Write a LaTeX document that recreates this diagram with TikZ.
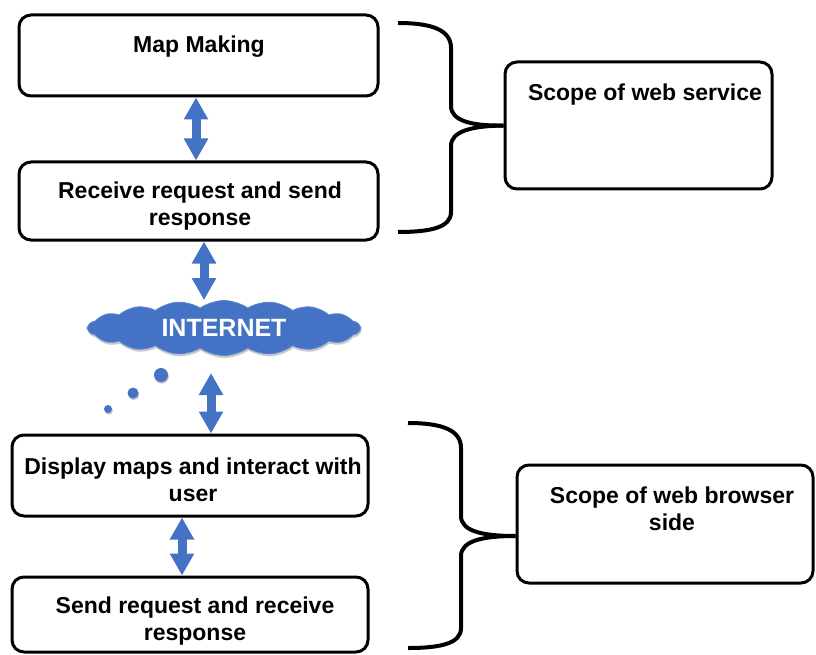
\documentclass[tikz,border=0pt]{standalone}
\usepackage{fontspec}
\setmainfont{Liberation Sans}
\usetikzlibrary{arrows.meta,shapes.symbols,shadows,calc}
\definecolor{netblue}{RGB}{68,114,196}
\tikzset{
  box/.style={draw=black, line width=3pt, rounded corners=12pt, fill=white, inner sep=0pt},
  txt/.style={align=center, inner sep=0pt, font=\fontsize{23}{27}\selectfont\bfseries},
  dbl/.style={draw=netblue, line width=9pt,
    {Triangle[width=23pt,length=22pt]}-{Triangle[width=23pt,length=22pt]}},
  brace/.style={draw=black, line width=4pt},
  dot/.style={circle, fill=netblue, inner sep=0pt,
    drop shadow={shadow xshift=0.8pt, shadow yshift=-1.6pt, fill=black!40, opacity=.6}},
}
\begin{document}
\begin{tikzpicture}[x=1pt, y=-1pt]
\useasboundingbox (0,0) rectangle (816,655);

% server side boxes
\node[box, minimum width=359pt, minimum height=81pt] (box1) at (198.5,55.5) {};
\node[box, minimum width=359pt, minimum height=78pt] (box2) at (198.5,201) {};
\node[txt] (t1) at (199,47) {Map Making};
\node[txt] (t2) at (200,206) {Receive request and send\\response};

% browser side boxes
\node[box, minimum width=356pt, minimum height=81pt] (box3) at (190,475.5) {};
\node[box, minimum width=356pt, minimum height=75pt] (box4) at (190,614.5) {};
\node[txt] (t3) at (193,480) {Display maps and interact with\\user};
\node[txt] (t4) at (195,621) {Send request and receive\\response};

% scope boxes
\node[box, minimum width=267pt, minimum height=127pt] (sbox1) at (638.5,125.5) {};
\node[box, minimum width=296pt, minimum height=118pt] (sbox2) at (665,524) {};
\node[txt] (t5) at (645,95) {Scope of web service};
\node[txt] (t6) at (672,509) {Scope of web browser\\side};

% the internet cloud
\node[cloud, cloud puffs=18, cloud puff arc=70, aspect=5,
      minimum width=272pt, minimum height=55pt, inner sep=0pt,
      fill=netblue, draw=netblue!85!white, line width=0.8pt,
      drop shadow={shadow xshift=0.8pt, shadow yshift=-2.5pt, fill=black!35, opacity=.6},
      text=white, font=\fontsize{25}{28}\selectfont\bfseries] (net) at (224,328) {INTERNET};

% thought dots below the cloud
\node[dot, minimum size=14pt] (d1) at (161,375) {};
\node[dot, minimum size=11pt] (d2) at (133,393) {};
\node[dot, minimum size=8pt] (d3) at (108,409) {};

% double arrows
\coordinate (a3top) at (211,373);
\draw[dbl] ([xshift=-2.5pt]box1.south) -- ([xshift=-2.5pt]box2.north);
\draw[dbl] ([xshift=5.5pt]box2.south) -- (net.north -| 204,0);
\draw[dbl] (a3top) -- (box3.north -| a3top);
\draw[dbl] ([xshift=-8pt]box3.south) -- ([xshift=-8pt]box4.north);

% braces
\coordinate (tip1) at (sbox1.west);
\coordinate (tip2) at ($(sbox2.west)+(0,12)$);
\draw[brace] (398,23) .. controls (432,23) and (451,30) .. (451,48) -- (451,106)
  .. controls (451,121) and (472,126) .. (tip1);
\draw[brace] (tip1) .. controls (472,126) and (451,131) .. (451,146) -- (451,212)
  .. controls (451,227) and (432,232) .. (398,232);
\draw[brace] (408,423) .. controls (442,423) and (461,430) .. (461,448) -- (461,516)
  .. controls (461,531) and (482,536) .. (tip2);
\draw[brace] (tip2) .. controls (482,536) and (461,541) .. (461,556) -- (461,628)
  .. controls (461,643) and (442,648) .. (408,648);
\end{tikzpicture}
\end{document}
